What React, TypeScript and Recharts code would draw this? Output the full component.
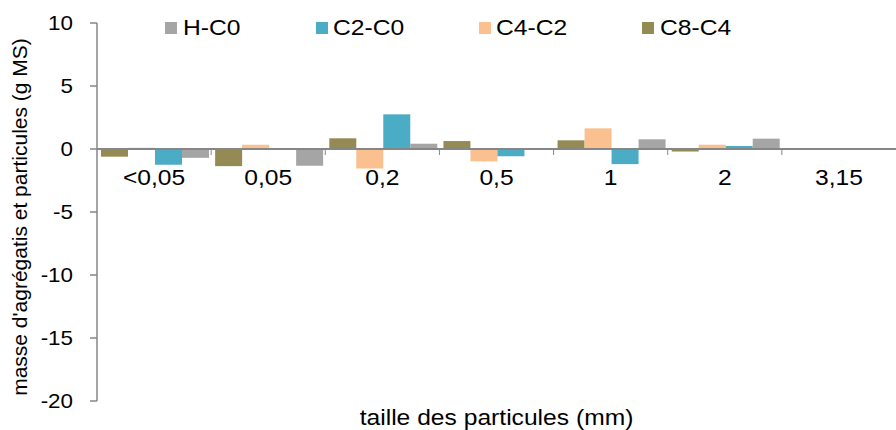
import React from 'react';
import { BarChart, Bar, XAxis, YAxis, ReferenceLine, Legend } from 'recharts';

// ---- data ----
const categories = ['<0,05', '0,05', '0,2', '0,5', '1', '2', '3,15'];
const hC0 = [-0.7, -1.33, 0.42, 0.08, 0.77, 0.82, 0];
const c2C0 = [-1.25, 0, 2.75, -0.58, -1.2, 0.24, 0];
const c4C2 = [0.1, 0.34, -1.55, -0.98, 1.64, 0.34, 0];
const c8C4 = [-0.61, -1.36, 0.85, 0.63, 0.69, -0.2, 0];
const yTicks = [-20, -15, -10, -5, 0, 5, 10];
const Y_MIN = -20;
const Y_MAX = 10;

const data = categories.map((cat, i) => ({
  cat,
  hC0: hC0[i],
  c2C0: c2C0[i],
  c4C2: c4C2[i],
  c8C4: c8C4[i],
}));

// drawing order (left to right inside a category)
const drawSeries = [
  { key: 'c8C4', name: 'C8-C4', color: '#948A54' },
  { key: 'c4C2', name: 'C4-C2', color: '#FAC090' },
  { key: 'c2C0', name: 'C2-C0', color: '#4BACC6' },
  { key: 'hC0', name: 'H-C0', color: '#A5A5A5' },
];
// legend order
const legendSeries = [
  { name: 'H-C0', color: '#A5A5A5' },
  { name: 'C2-C0', color: '#4BACC6' },
  { name: 'C4-C2', color: '#FAC090' },
  { name: 'C8-C4', color: '#948A54' },
];

// ---- layout ----
const W = 896;
const H = 430;
const M_TOP = 23;
const Y_AXIS_W = 97;
const X_AXIS_H = 29;
const PLOT_W = W - Y_AXIS_W;
const PLOT_H = H - M_TOP - X_AXIS_H;
const Y0 = M_TOP + PLOT_H * (Y_MAX / (Y_MAX - Y_MIN));
const BAND = PLOT_W / categories.length;
const AXIS_COLOR = '#868686';
const FONT = '"Liberation Sans", Arial, sans-serif';
const SX = 1.12; // horizontal text stretch

const XTick = (props: any) => {
  const { x, payload, index } = props;
  return (
    <g>
      {index > 0 && (
        <line x1={x - BAND / 2} x2={x - BAND / 2} y1={Y0} y2={Y0 + 6} stroke={AXIS_COLOR} strokeWidth={1} />
      )}
      <text
        x={0}
        y={0}
        transform={`translate(${x} ${Y0 + 36}) scale(${SX} 1)`}
        textAnchor="middle"
        fill="#000"
        fontSize={22}
      >
        {payload.value}
      </text>
    </g>
  );
};

const YTick = (props: any) => {
  const { x, y, payload } = props;
  return (
    <text
      x={0}
      y={0}
      dy="0.355em"
      transform={`translate(${x} ${y}) scale(${SX} 1)`}
      textAnchor="end"
      fill="#000"
      fontSize={20}
    >
      {payload.value}
    </text>
  );
};

const LegendContent = () => (
  <div style={{ display: 'flex', alignItems: 'center', whiteSpace: 'nowrap' }}>
    {legendSeries.map((s, i) => (
      <div
        key={s.name}
        style={{ display: 'flex', alignItems: 'center', marginRight: i < legendSeries.length - 1 ? 82 : 0 }}
      >
        <span style={{ display: 'inline-block', width: 12, height: 12, background: s.color, marginRight: 5.5 }} />
        <span
          style={{
            display: 'inline-block',
            fontSize: 22,
            lineHeight: '22px',
            color: '#000',
            transform: `scaleX(${SX})`,
            transformOrigin: 'left center',
          }}
        >
          {s.name}
        </span>
      </div>
    ))}
  </div>
);

export default function App() {
  return (
    <div style={{ position: 'absolute', left: 0, top: 0, width: W, height: H, background: '#fff' }}>
      <BarChart
        width={W}
        height={H}
        data={data}
        margin={{ top: M_TOP, right: 0, bottom: 0, left: 0 }}
        barCategoryGap="3.5%"
        barGap={0}
        style={{ fontFamily: FONT }}
      >
        <XAxis
          dataKey="cat"
          height={X_AXIS_H}
          axisLine={false}
          tickLine={false}
          interval={0}
          tick={<XTick />}
          label={{
            content: (p: any) => {
              const vb = p.viewBox || {};
              const cx = vb.x + vb.width / 2;
              return (
                <text
                  x={0}
                  y={0}
                  transform={`translate(${cx} 425) scale(${SX} 1)`}
                  textAnchor="middle"
                  fill="#000"
                  fontSize={22}
                  style={{ fontFamily: FONT }}
                >
                  taille des particules (mm)
                </text>
              );
            },
          }}
        />
        <YAxis
          type="number"
          domain={[Y_MIN, Y_MAX]}
          ticks={yTicks}
          interval={0}
          width={Y_AXIS_W}
          axisLine={{ stroke: AXIS_COLOR, strokeWidth: 1.5 }}
          tickLine={{ stroke: AXIS_COLOR, strokeWidth: 1.5 }}
          tickSize={7}
          tickMargin={17}
          tick={<YTick />}
          allowDataOverflow
          label={{
            content: (p: any) => {
              const vb = p.viewBox || {};
              const cy = vb.y + vb.height / 2 + 5;
              const cx = 27;
              return (
                <text
                  x={cx}
                  y={cy}
                  transform={`rotate(-90, ${cx}, ${cy})`}
                  textAnchor="middle"
                  fill="#000"
                  fontSize={21}
                  style={{ fontFamily: FONT }}
                >
                  masse d'agrégatis et particules (g MS)
                </text>
              );
            },
          }}
        />
        <Legend
          layout="horizontal"
          verticalAlign="middle"
          align="center"
          content={<LegendContent />}
          wrapperStyle={{ top: 17, left: 165, width: 'auto', height: 'auto' }}
        />
        {drawSeries.map((s) => (
          <Bar key={s.key} dataKey={s.key} name={s.name} fill={s.color} isAnimationActive={false} />
        ))}
        <ReferenceLine y={0} stroke={AXIS_COLOR} strokeWidth={2} />
      </BarChart>
    </div>
  );
}
